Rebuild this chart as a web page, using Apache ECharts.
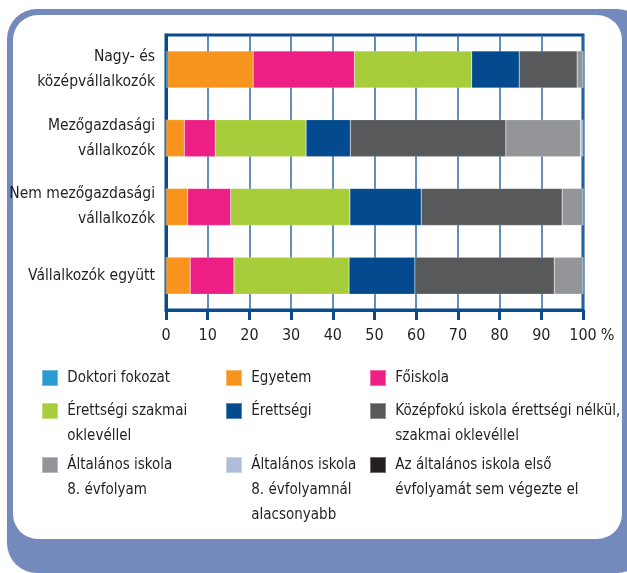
<!DOCTYPE html>
<html>
<head>
<meta charset="utf-8">
<script src="https://cdn.jsdelivr.net/npm/echarts@6/dist/echarts.min.js"></script>
<style>
  html, body { margin: 0; padding: 0; background: #ffffff; }
  #chart { width: 627px; height: 573px; }
</style>
</head>
<body>
<div id="chart"></div>
<script>
// kategóriák (felülről lefelé)
const categories = ['Nagy- és\nközépvállalkozók', 'Mezőgazdasági\nvállalkozók', 'Nem mezőgazdasági\nvállalkozók', 'Vállalkozók együtt']

// iskolai végzettség szerinti megoszlás, %
const doktori = [0.4, 0, 0, 0]
const egyetem = [20.5, 4.4, 5.2, 5.8]
const foiskola = [24.3, 7.4, 10.3, 10.5]
const erettsegiSzakmai = [28.1, 21.8, 28.6, 27.6]
const erettsegi = [11.4, 10.6, 17.1, 15.8]
const kozepfoku = [13.9, 37.3, 33.8, 33.4]
const altalanos8 = [1.4, 17.9, 5.0, 6.9]
const altalanosAlacsonyabb = [0, 0.6, 0, 0]
const elsoSem = [0, 0, 0, 0]

const xTicks = [0, 10, 20, 30, 40, 50, 60, 70, 80, 90, 100]

const seriesNames = [
    'Doktori fokozat',
    'Egyetem',
    'Főiskola',
    'Érettségi szakmai\noklevéllel',
    'Érettségi',
    'Középfokú iskola érettségi nélkül,\nszakmai oklevéllel',
    'Általános iskola\n8. évfolyam',
    'Általános iskola\n8. évfolyamnál\nalacsonyabb',
    'Az általános iskola első\névfolyamát sem végezte el'
]
const seriesData = [doktori, egyetem, foiskola, erettsegiSzakmai, erettsegi, kozepfoku, altalanos8, altalanosAlacsonyabb, elsoSem]
const colors = ['#2a9ad2', '#f7941d', '#ed1e84', '#a7ce3a', '#034b8e', '#58595b', '#949599', '#b0bcdb', '#231f20']

const fontFamily = '"Liberation Sans Narrow", "DejaVu Sans Condensed", "Roboto Condensed", sans-serif'
const textColor = '#231f20'
const frameBlue = '#0a4b8e'

// jelmagyarázat: 3 oszlop x 3 sor
const legendCols = [41, 225, 369]
const legendRows = [369, 402, 456]
const lineH = 25

const chart = echarts.init(document.getElementById('chart'), null, { renderer: 'canvas' })

const legends = seriesNames.map((name, i) => {
    const lines = name.split('\n').length
    // a szöveg középre igazodik a négyzethez, ezért üres sorokkal toljuk le
    const boxOffset = (2 * lines - 1) * lineH / 2 - 8
    return {
        data: [name],
        left: legendCols[i % 3],
        top: legendRows[Math.floor(i / 3)] - boxOffset + 1,
        orient: 'horizontal',
        padding: 0,
        itemWidth: 16,
        itemHeight: 16,
        itemGap: 0,
        icon: 'rect',
        selectedMode: false,
        formatter: n => '\n'.repeat(lines - 1) + ' ' + n.split('\n').join('\n '),
        textStyle: {
            fontFamily: fontFamily,
            fontSize: 15,
            lineHeight: lineH,
            color: textColor
        }
    }
})

const option = {
    animation: false,
    backgroundColor: '#ffffff',
    graphic: [
        {
            type: 'rect',
            z: -10,
            shape: { x: 7, y: 9, width: 640, height: 564, r: 30 },
            style: { fill: '#748abd' }
        },
        {
            type: 'rect',
            z: -9,
            shape: { x: 13, y: 15, width: 609, height: 524, r: 25 },
            style: { fill: '#ffffff' }
        }
    ],
    grid: {
        left: 166,
        right: 44,
        top: 35,
        bottom: 263,
        outerBoundsMode: 'none',
        containLabel: false,
        show: true,
        borderColor: frameBlue,
        borderWidth: 3,
        backgroundColor: 'transparent'
    },
    legend: legends,
    xAxis: {
        type: 'value',
        min: 0,
        max: 100,
        interval: 10,
        name: '\n\n%',
        nameLocation: 'end',
        nameGap: 10,
        nameTextStyle: {
            fontFamily: fontFamily,
            fontSize: 16,
            lineHeight: 26,
            color: textColor
        },
        axisLine: { show: true, lineStyle: { color: frameBlue, width: 3 } },
        axisTick: { show: true, length: 10, lineStyle: { color: frameBlue, width: 3 } },
        axisLabel: {
            fontFamily: fontFamily,
            fontSize: 16,
            color: textColor,
            margin: 18,
            formatter: v => (xTicks.indexOf(v) >= 0 ? String(v) : '')
        },
        splitLine: { show: true, lineStyle: { color: '#2f67a5', width: 1.5 } }
    },
    yAxis: {
        type: 'category',
        data: categories,
        inverse: true,
        axisLine: { show: true, lineStyle: { color: frameBlue, width: 3 } },
        axisTick: { show: false },
        axisLabel: {
            fontFamily: fontFamily,
            fontSize: 15.5,
            lineHeight: 25,
            color: textColor,
            align: 'right',
            margin: 11,
            padding: [4, 0, 0, 0]
        },
        splitLine: { show: false }
    },
    series: seriesNames.map((name, i) => ({
        type: 'bar',
        name: name,
        stack: 'total',
        barWidth: 37,
        data: seriesData[i],
        itemStyle: {
            color: colors[i],
            borderColor: 'rgba(255,255,255,0.35)',
            borderWidth: 0.5
        },
        emphasis: { disabled: true }
    }))
}

chart.setOption(option)
</script>
</body>
</html>
